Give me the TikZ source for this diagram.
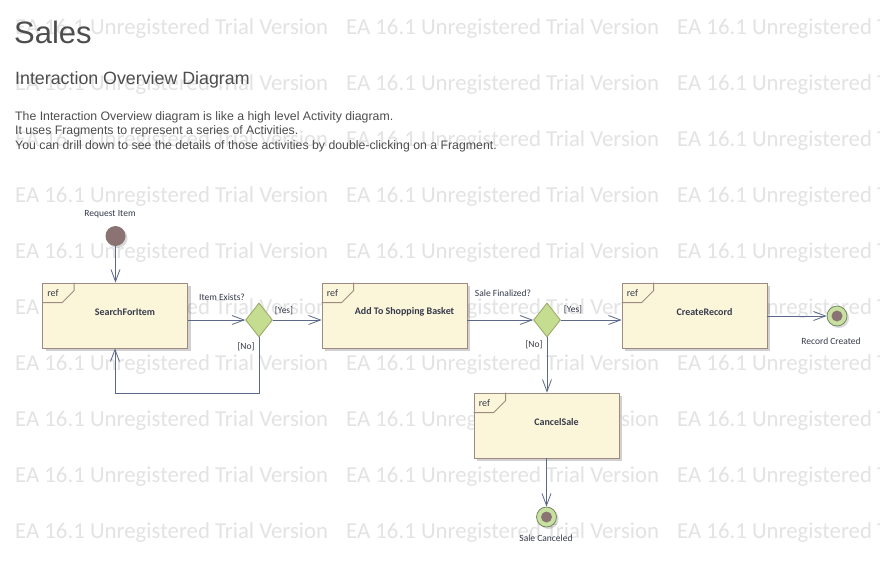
\documentclass[tikz,border=0pt]{standalone}
\usepackage{fontspec}
\setmainfont{Liberation Sans}
\newfontfamily\carl{Carlito}
\usetikzlibrary{shapes.geometric,arrows.meta,shadows,calc}
\definecolor{flowc}{RGB}{92,104,138}
\definecolor{boxfill}{RGB}{251,246,218}
\definecolor{boxdraw}{RGB}{158,138,128}
\definecolor{decfill}{RGB}{197,221,145}
\definecolor{decdraw}{RGB}{150,165,100}
\definecolor{initc}{RGB}{140,115,115}
\definecolor{finfill}{RGB}{200,225,160}
\definecolor{findraw}{RGB}{120,135,100}
\definecolor{titlec}{RGB}{77,77,77}
\definecolor{labc}{RGB}{55,58,75}
\definecolor{wmc}{RGB}{227,227,227}
\tikzset{
  frag/.style={rectangle, draw=boxdraw, fill=boxfill, line width=0.8pt, minimum width=145pt, minimum height=65pt, inner sep=0pt,
    drop shadow={shadow xshift=3pt, shadow yshift=-3pt, fill=black, opacity=0.18}},
  fraglabel/.style={font=\carl\bfseries\fontsize{10}{12}\selectfont, text=labc, anchor=center},
  reflabel/.style={font=\carl\fontsize{10}{12}\selectfont, text=labc},
  dec/.style={diamond, draw=decdraw, fill=decfill, line width=0.8pt, minimum width=27pt, minimum height=34pt, inner sep=0pt},
  initn/.style={circle, fill=initc, minimum size=20pt, inner sep=0pt},
  finn/.style={circle, draw=findraw, fill=finfill, line width=0.8pt, minimum size=20pt, inner sep=0pt},
  flow/.style={draw=flowc, line width=0.8pt, -{Straight Barb[length=12pt,width=9pt]}},
  lab/.style={font=\carl\fontsize{9.5}{11}\selectfont, text=labc, inner sep=0pt},
  wm/.style={font=\carl\fontsize{22.8}{26}\selectfont, text=wmc, anchor=base west, inner sep=0pt},
  para/.style={anchor=base west, inner sep=0pt, text=titlec, font=\fontsize{12.3}{14}\selectfont}
}
\begin{document}
\begin{tikzpicture}[x=1pt,y=-1pt]
\useasboundingbox[fill=white] (0,0) rectangle (880,560);
% watermark
\begin{scope}
\clip (0,0) rectangle (880,560);
\foreach \r in {0,...,9}{
  \foreach \c in {15,346,677}{
    \node[wm] (wm-\r-\c) at (\c,34+56*\r) {EA 16.1 Unregistered Trial Version};
  }
}
\end{scope}
% header
\node[anchor=base west, inner sep=0pt, text=titlec, font=\fontsize{31}{35}\selectfont] (title) at (14,43) {Sales};
\node[anchor=base west, inner sep=0pt, text=titlec, font=\fontsize{17.8}{20}\selectfont] (sub) at (15,84) {Interaction Overview Diagram};
\node[para] (p1) at (15,120) {The Interaction Overview diagram is like a high level Activity diagram.};
\node[para] (p2) at (15,134) {It uses Fragments to represent a series of Activities.};
\node[para] (p3) at (15,149) {You can drill down to see the details of those activities by double-clicking on a Fragment.};
% nodes
\node[initn, drop shadow={shadow xshift=2pt, shadow yshift=-2pt, fill=black, opacity=0.15}] (init) at (115.5,236) {};
\node[frag] (b1) at (115,315.5) {};
\node[frag] (b2) at (394.5,315.5) {};
\node[frag] (b3) at (694.5,315.5) {};
\node[frag] (b4) at (546.5,425.5) {};
\node[dec] (d1) at (259,320) {};
\node[dec] (d2) at (547,320) {};
\node[finn, drop shadow={shadow xshift=2pt, shadow yshift=-2pt, fill=black, opacity=0.15}] (f1) at (837,316) {};
\node[finn, drop shadow={shadow xshift=2pt, shadow yshift=-2pt, fill=black, opacity=0.15}] (f2) at (546.5,517) {};
\fill[initc] (f1) circle (5.5);
\fill[initc] (f2) circle (5.5);
% ref tabs
\foreach \b in {b1,b2,b3,b4}{
  \draw[draw=boxdraw, line width=0.8pt] (\b.north west) ++(32,0) -- ++(0,8) -- ++(-12,12) -- ++(-20,0);
  \node[reflabel, anchor=base west, inner sep=0pt] (\b-ref) at ($(\b.north west)+(5,14)$) {ref};
}
\node[fraglabel] (b1t) at ($(b1.center)+(10,-3.5)$) {SearchForItem};
\node[fraglabel] (b2t) at ($(b2.center)+(10,-3.5)$) {Add To Shopping Basket};
\node[fraglabel] (b3t) at ($(b3.center)+(10,-3.5)$) {CreateRecord};
\node[fraglabel] (b4t) at ($(b4.center)+(10,-3.5)$) {CancelSale};
% connectors
\draw[flow] (init) -- (init |- b1.north);
\draw[flow] (d1.west -| b1.east) -- (d1.west);
\draw[flow] (d1.east) -- (d1.east -| b2.west);
\draw[flow] (d1.south) -- ++(0,56) -| (b1.south);
\draw[flow] (d2.west -| b2.east) -- (d2.west);
\draw[flow] (d2.east) -- (d2.east -| b3.west);
\draw[flow] (d2.south) -- (d2.south |- b4.north);
\draw[flow] (f1.west -| b3.east) -- (f1.west);
\draw[flow] (b4.south) -- (f2.north);
% labels
\node[lab] (l-req) at (110,214) {Request Item};
\node[lab] (l-ie) at (222,297) {Item Exists?};
\node[lab] (l-y1) at (284,311) {[Yes]};
\node[lab] (l-n1) at (246,347) {[No]};
\node[lab] (l-sf) at (503,293) {Sale Finalized?};
\node[lab] (l-y2) at (573,310) {[Yes]};
\node[lab] (l-n2) at (534,345) {[No]};
\node[lab] (l-rc) at (831,341) {Record Created};
\node[lab] (l-sc) at (546,538) {Sale Canceled};
\end{tikzpicture}
\end{document}
